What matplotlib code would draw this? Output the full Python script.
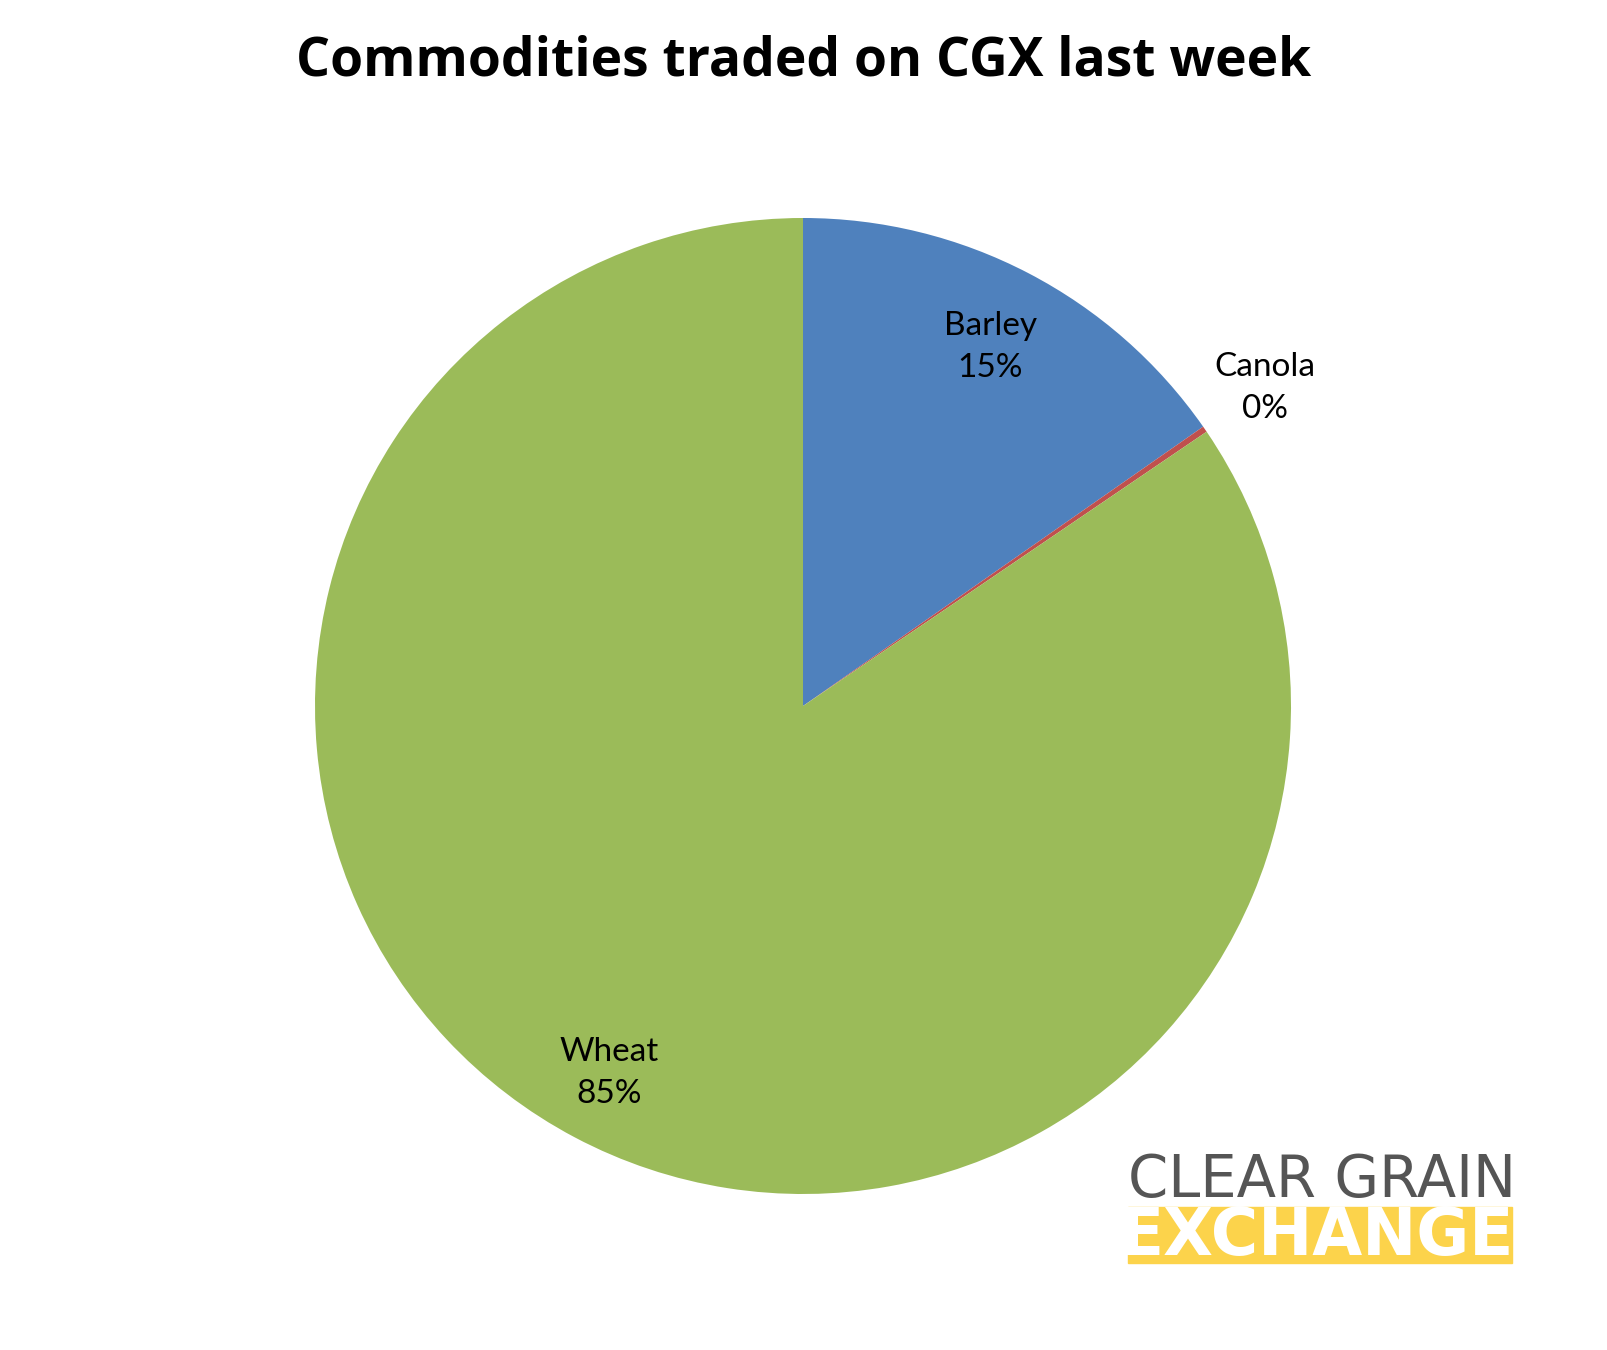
import matplotlib
matplotlib.use("Agg")
import matplotlib.pyplot as plt
import numpy as np
from matplotlib.patches import Rectangle

# data
commodities = ['Barley', 'Canola', 'Wheat']
shares = [15.3, 0.2, 84.5]
pct_labels = ['15%', '0%', '85%']
colours = ['#4F81BD', '#C0504D', '#9BBB59']
label_dist = [0.83, 1.15, 0.85]

plt.rcParams['font.family'] = ['Lato', 'DejaVu Sans']

W, H = 1607, 1350
fig = plt.figure(figsize=(W / 100, H / 100), dpi=100)
# pie centre ~ (803, 706) px, radius ~ 488 px
ax = fig.add_axes([315 / W, (H - 1194) / H, 976 / W, 976 / H])

wedges, _ = ax.pie(shares, colors=colours, startangle=90, counterclock=False,
                   wedgeprops=dict(linewidth=0))
ax.set_xlim(-1, 1)
ax.set_ylim(-1, 1)
ax.set_aspect('equal')

for w, name, pct, d in zip(wedges, commodities, pct_labels, label_dist):
    ang = np.deg2rad((w.theta1 + w.theta2) / 2)
    ax.text(d * np.cos(ang), d * np.sin(ang), f'{name}\n{pct}',
            ha='center', va='center', fontsize=24, linespacing=1.5)

fig.text(0.5, 1 - 61 / H, 'Commodities traded on CGX last week', ha='center', va='center',
         fontsize=38.5, fontweight='bold', family='Open Sans')

# logo
fig.text(1128 / W, 1 - 1197 / H, 'CLEAR GRAIN', ha='left', va='baseline',
         fontsize=41.5, color='#555555', family='DejaVu Sans')
fig.patches.append(Rectangle((1128 / W, 1 - 1263 / H), 384 / W, 56 / H,
                             transform=fig.transFigure, color='#FCD34B', zorder=1))
fig.text(1119 / W, 1 - 1255 / H, 'EXCHANGE', ha='left', va='baseline',
         fontsize=46.5, color='white', fontweight='bold', family='DejaVu Sans', zorder=2)

fig.savefig('out.png', dpi=100, facecolor='white')
